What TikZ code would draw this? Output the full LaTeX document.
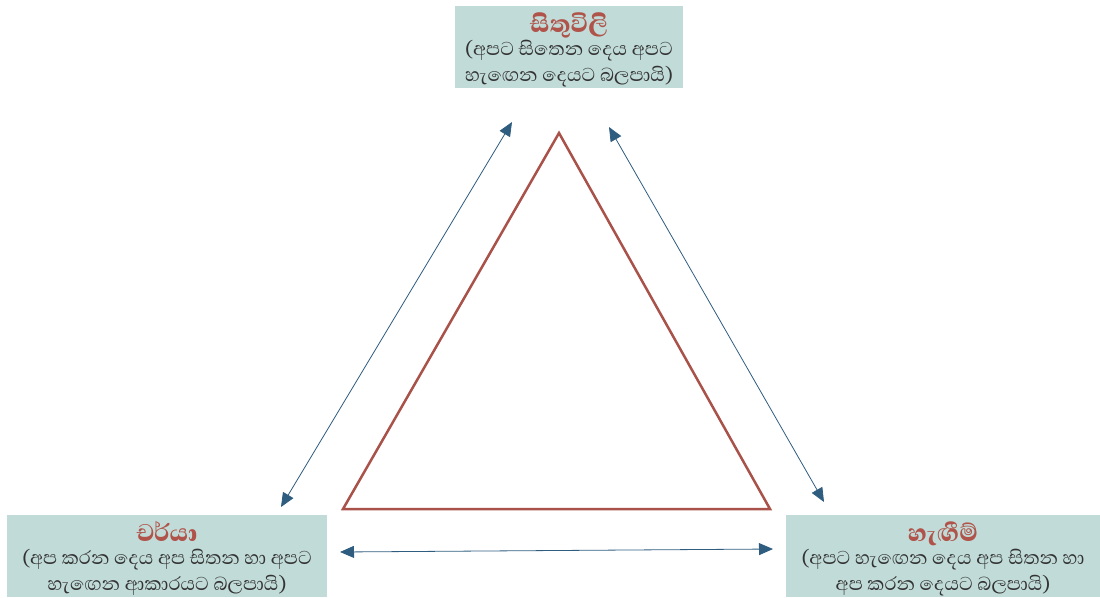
\documentclass[tikz,border=0pt]{standalone}
\usepackage{fontspec}
\setmainfont{Abhaya Libre}[Script=Sinhala, BoldFont={Abhaya Libre ExtraBold}]
\usetikzlibrary{arrows.meta}
\definecolor{boxfill}{HTML}{C1DCD8}
\definecolor{tri}{HTML}{A9524A}
\definecolor{arr}{HTML}{2F5D80}
\definecolor{ttl}{HTML}{B0534A}
\definecolor{txt}{HTML}{333333}
\tikzset{
  panel/.style={fill=boxfill, draw=none, inner sep=0pt, anchor=north west},
  ttlnode/.style={text=ttl, font=\fontsize{31}{32}\selectfont\bfseries, inner sep=0pt, anchor=base},
  bodynode/.style={text=txt, font=\fontsize{24}{26}\selectfont, align=center, inner sep=0pt, anchor=north},
  link/.style={draw=arr, line width=0.8pt, {Triangle[length=14pt,width=12pt]}-{Triangle[length=14pt,width=12pt]}},
  trianglestyle/.style={draw=tri, line width=2.5pt, line join=miter}
}
\begin{document}
\begin{tikzpicture}[x=1pt,y=-1pt]
\useasboundingbox (0,0) rectangle (1100,597);
% panels
\node[panel, minimum width=228pt, minimum height=82pt] (ptop) at (455,6) {};
\node[panel, minimum width=320pt, minimum height=82pt] (pleft) at (7,515) {};
\node[panel, minimum width=314pt, minimum height=82pt] (pright) at (786,515) {};
% titles
\node[ttlnode] (ttop) at (569,32) {සිතුවිලි};
\node[bodynode] (btop) at (569,40) {(අපට සිතෙන දෙය අපට\\හැඟෙන දෙයට බලපායි)};
\node[ttlnode] (tleft) at (167,541) {චර්යා};
\node[bodynode] (bleft) at (167,549) {(අප කරන දෙය අප සිතන හා අපට\\හැඟෙන ආකාරයට බලපායි)};
\node[ttlnode] (tright) at (943,541) {හැඟීම්};
\node[bodynode] (bright) at (943,549) {(අපට හැඟෙන දෙය අප සිතන හා\\අප කරන දෙයට බලපායි)};
% triangle
\coordinate (apex) at (559,133);
\coordinate (bl) at (343,509);
\coordinate (br) at (770,509);
\draw[trianglestyle] (apex) -- (bl) -- (br) -- cycle;
% arrows
\coordinate (l1) at (281,507);
\coordinate (l2) at (512,122);
\coordinate (r1) at (609,127);
\coordinate (r2) at (824,502);
\coordinate (h1) at (340,552);
\coordinate (h2) at (773,549);
\draw[link] (l1) -- (l2);
\draw[link] (r1) -- (r2);
\draw[link] (h1) -- (h2);
\end{tikzpicture}
\end{document}
